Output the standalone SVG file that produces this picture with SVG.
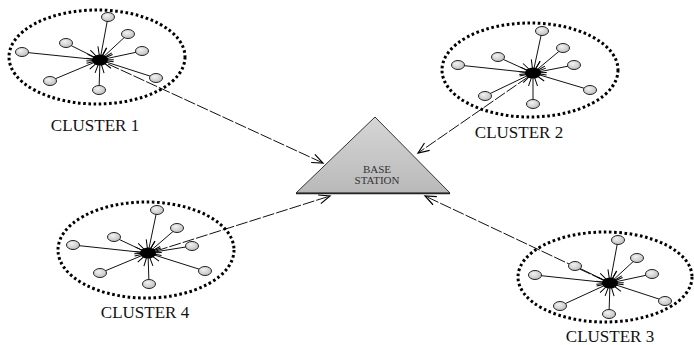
<svg xmlns="http://www.w3.org/2000/svg" width="694" height="345" viewBox="0 0 694 345">
<defs>
<style>
.ring{fill:none;stroke:#000;stroke-width:3;stroke-dasharray:2.6,2.6}
.spoke{stroke:#111;stroke-width:1;fill:none;marker-end:url(#spike)}
.sat{fill:url(#satg);stroke:#222;stroke-width:1}
.hub{fill:#000}
.link{stroke:#111;stroke-width:1;fill:none;stroke-dasharray:12,2;marker-end:url(#head)}
.lbl{font-family:"Liberation Serif","Times New Roman",serif;font-size:17px;fill:#111;text-anchor:middle}
.bs{font-family:"Liberation Serif","Times New Roman",serif;font-size:11px;fill:#333;text-anchor:middle}
</style>
<radialGradient id="satg" cx="0.4" cy="0.35" r="0.7">
<stop offset="0" stop-color="#f2f2f2"/>
<stop offset="1" stop-color="#bdbdbd"/>
</radialGradient>
<linearGradient id="trig" x1="0" y1="0" x2="0" y2="1">
<stop offset="0" stop-color="#d6d6d6"/>
<stop offset="1" stop-color="#b9b9b9"/>
</linearGradient>
<marker id="spike" markerUnits="userSpaceOnUse" markerWidth="30" markerHeight="30" viewBox="-15 -15 30 30" refX="0" refY="0" orient="auto">
<path d="M-13,-4.5 L0,0 L-13,4.5" fill="none" stroke="#000" stroke-width="1"/>
</marker>
<marker id="head" markerUnits="userSpaceOnUse" markerWidth="30" markerHeight="30" viewBox="-15 -15 30 30" refX="0" refY="0" orient="auto">
<path d="M-11,-4.5 L0,0 L-11,4.5" fill="none" stroke="#000" stroke-width="1.2"/>
</marker>
</defs>
<rect width="694" height="345" fill="#fff"/>

<g id="connectors">
<line class="link" x1="108" y1="64" x2="323" y2="163"/>
<line class="link" x1="528" y1="77" x2="418" y2="153"/>
<line class="link" x1="156" y1="251" x2="330" y2="196"/>
<line class="link" x1="603" y1="280" x2="425" y2="196"/>
</g>

<g id="base-station">
<path d="M296,193 L375,117 L450,193 Z" fill="url(#trig)" stroke="#333" stroke-width="1"/>
<line x1="296" y1="193.5" x2="450" y2="193.5" stroke="#222" stroke-width="1.5"/>
<text class="bs" x="377" y="173">BASE</text>
<text class="bs" x="377" y="184">STATION</text>
</g>

<g id="cluster1">
<ellipse class="ring" cx="97" cy="57" rx="88" ry="47"/>
<line class="spoke" x1="108" y1="17" x2="100" y2="60"/>
<line class="spoke" x1="128" y1="34" x2="100" y2="60"/>
<line class="spoke" x1="66" y1="43" x2="100" y2="60"/>
<line class="spoke" x1="22" y1="52" x2="100" y2="60"/>
<line class="spoke" x1="142" y1="51" x2="100" y2="60"/>
<line class="spoke" x1="50" y1="81" x2="100" y2="60"/>
<line class="spoke" x1="156" y1="78" x2="100" y2="60"/>
<line class="spoke" x1="99" y1="90" x2="100" y2="60"/>
<ellipse class="hub" cx="100" cy="60" rx="8" ry="5.5"/>
<ellipse class="sat" cx="108" cy="17" rx="6.5" ry="4.5"/>
<ellipse class="sat" cx="128" cy="34" rx="6.5" ry="4.5"/>
<ellipse class="sat" cx="66" cy="43" rx="6.5" ry="4.5"/>
<ellipse class="sat" cx="22" cy="52" rx="6.5" ry="4.5"/>
<ellipse class="sat" cx="142" cy="51" rx="6.5" ry="4.5"/>
<ellipse class="sat" cx="50" cy="81" rx="6.5" ry="4.5"/>
<ellipse class="sat" cx="156" cy="78" rx="6.5" ry="4.5"/>
<ellipse class="sat" cx="99" cy="90" rx="6.5" ry="4.5"/>
<text class="lbl" x="95" y="131">CLUSTER 1</text>
</g>

<g id="cluster2">
<ellipse class="ring" cx="530" cy="70" rx="88" ry="47"/>
<line class="spoke" x1="542" y1="31" x2="533" y2="73"/>
<line class="spoke" x1="563" y1="48" x2="533" y2="73"/>
<line class="spoke" x1="498" y1="57" x2="533" y2="73"/>
<line class="spoke" x1="458" y1="65" x2="533" y2="73"/>
<line class="spoke" x1="574" y1="65" x2="533" y2="73"/>
<line class="spoke" x1="485" y1="96" x2="533" y2="73"/>
<line class="spoke" x1="590" y1="90" x2="533" y2="73"/>
<line class="spoke" x1="533" y1="104" x2="533" y2="73"/>
<ellipse class="hub" cx="533" cy="73" rx="8" ry="5.5"/>
<ellipse class="sat" cx="542" cy="31" rx="6.5" ry="4.5"/>
<ellipse class="sat" cx="563" cy="48" rx="6.5" ry="4.5"/>
<ellipse class="sat" cx="498" cy="57" rx="6.5" ry="4.5"/>
<ellipse class="sat" cx="458" cy="65" rx="6.5" ry="4.5"/>
<ellipse class="sat" cx="574" cy="65" rx="6.5" ry="4.5"/>
<ellipse class="sat" cx="485" cy="96" rx="6.5" ry="4.5"/>
<ellipse class="sat" cx="590" cy="90" rx="6.5" ry="4.5"/>
<ellipse class="sat" cx="533" cy="104" rx="6.5" ry="4.5"/>
<text class="lbl" x="519" y="138">CLUSTER 2</text>
</g>

<g id="cluster3">
<ellipse class="ring" cx="605" cy="277" rx="87" ry="45"/>
<line class="spoke" x1="618" y1="240" x2="610" y2="283"/>
<line class="spoke" x1="637" y1="258" x2="610" y2="283"/>
<line class="spoke" x1="575" y1="266" x2="610" y2="283"/>
<line class="spoke" x1="535" y1="275" x2="610" y2="283"/>
<line class="spoke" x1="652" y1="274" x2="610" y2="283"/>
<line class="spoke" x1="560" y1="306" x2="610" y2="283"/>
<line class="spoke" x1="665" y1="301" x2="610" y2="283"/>
<line class="spoke" x1="609" y1="314" x2="610" y2="283"/>
<ellipse class="hub" cx="610" cy="283" rx="8" ry="5.5"/>
<ellipse class="sat" cx="618" cy="240" rx="6.5" ry="4.5"/>
<ellipse class="sat" cx="637" cy="258" rx="6.5" ry="4.5"/>
<ellipse class="sat" cx="575" cy="266" rx="6.5" ry="4.5"/>
<ellipse class="sat" cx="535" cy="275" rx="6.5" ry="4.5"/>
<ellipse class="sat" cx="652" cy="274" rx="6.5" ry="4.5"/>
<ellipse class="sat" cx="560" cy="306" rx="6.5" ry="4.5"/>
<ellipse class="sat" cx="665" cy="301" rx="6.5" ry="4.5"/>
<ellipse class="sat" cx="609" cy="314" rx="6.5" ry="4.5"/>
<text class="lbl" x="610" y="342">CLUSTER 3</text>
</g>

<g id="cluster4">
<ellipse class="ring" cx="146" cy="250" rx="88" ry="48"/>
<line class="spoke" x1="157" y1="210" x2="148" y2="253"/>
<line class="spoke" x1="177" y1="228" x2="148" y2="253"/>
<line class="spoke" x1="114" y1="237" x2="148" y2="253"/>
<line class="spoke" x1="73" y1="245" x2="148" y2="253"/>
<line class="spoke" x1="192" y1="246" x2="148" y2="253"/>
<line class="spoke" x1="100" y1="273" x2="148" y2="253"/>
<line class="spoke" x1="205" y1="271" x2="148" y2="253"/>
<line class="spoke" x1="149" y1="284" x2="148" y2="253"/>
<ellipse class="hub" cx="148" cy="253" rx="8" ry="5.5"/>
<ellipse class="sat" cx="157" cy="210" rx="6.5" ry="4.5"/>
<ellipse class="sat" cx="177" cy="228" rx="6.5" ry="4.5"/>
<ellipse class="sat" cx="114" cy="237" rx="6.5" ry="4.5"/>
<ellipse class="sat" cx="73" cy="245" rx="6.5" ry="4.5"/>
<ellipse class="sat" cx="192" cy="246" rx="6.5" ry="4.5"/>
<ellipse class="sat" cx="100" cy="273" rx="6.5" ry="4.5"/>
<ellipse class="sat" cx="205" cy="271" rx="6.5" ry="4.5"/>
<ellipse class="sat" cx="149" cy="284" rx="6.5" ry="4.5"/>
<text class="lbl" x="145" y="318">CLUSTER 4</text>
</g>
</svg>
